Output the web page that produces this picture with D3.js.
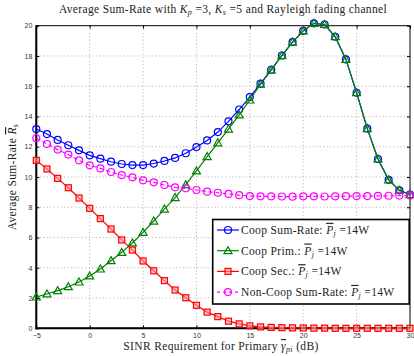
<!DOCTYPE html>
<html>
<head>
<meta charset="utf-8">
<script src="https://cdn.jsdelivr.net/npm/d3@7"></script>
<style>
  body { margin: 0; background: #fff; }
  .tick text { font-family: "Liberation Sans", Arial, sans-serif; font-size: 7px; fill: #333; }
  .ov { text-decoration: overline; }
</style>
</head>
<body>
<script>
// valores
const sinr = d3.range(-5, 31, 1);
const coopSum = [13.17, 12.84, 12.45, 12.1, 11.76, 11.43, 11.21, 11.01, 10.86, 10.79, 10.79, 10.89, 11.06, 11.26, 11.57, 11.98, 12.42, 12.97, 13.68, 14.46, 15.28, 16.17, 17.09, 18.03, 18.92, 19.66, 20.16, 20.08, 19.27, 17.77, 15.57, 13.2, 11.19, 9.81, 9.12, 8.84];
const coopPrim = [2.07, 2.27, 2.49, 2.75, 3.06, 3.46, 3.92, 4.47, 5.02, 5.64, 6.34, 7.09, 7.88, 8.64, 9.49, 10.4, 11.35, 12.26, 13.17, 14.1, 15.09, 16.13, 17.07, 18.02, 18.92, 19.66, 20.16, 20.08, 19.27, 17.77, 15.57, 13.2, 11.19, 9.81, 9.12, 8.84];
const coopSec = [11.1, 10.53, 9.91, 9.29, 8.61, 7.93, 7.25, 6.56, 5.84, 5.17, 4.45, 3.8, 3.15, 2.53, 2.02, 1.52, 1.07, 0.77, 0.47, 0.29, 0.16, 0.09, 0.06, 0.04, 0.03, 0.02, 0.01, 0.01, 0, 0, 0, 0, 0, 0, 0, 0];
const nonCoop = [12.56, 12.18, 11.81, 11.48, 11.1, 10.77, 10.57, 10.33, 10.13, 9.98, 9.78, 9.65, 9.47, 9.32, 9.25, 9.14, 9.03, 8.96, 8.88, 8.8, 8.74, 8.72, 8.72, 8.71, 8.7, 8.72, 8.72, 8.71, 8.72, 8.73, 8.74, 8.74, 8.75, 8.76, 8.77, 8.78];
const xTicks = [-5, 0, 5, 10, 15, 20, 25, 30];
const yTicks = [0, 2, 4, 6, 8, 10, 12, 14, 16, 18, 20];
const legendas = ["Coop Sum-Rate: ", "Coop Prim.: ", "Coop Sec.: ", "Non-Coop Sum-Rate: "];

const largura = 414, altura = 356;
const esq = 36.3, dir = 410, topo = 25.7, base = 328.3;

const svg = d3.select("body").append("svg")
  .attr("width", largura).attr("height", altura);

const x = d3.scaleLinear().domain([-5, 30]).range([esq, dir]);
const y = d3.scaleLinear().domain([0, 20]).range([base, topo]);

// grade pontilhada
svg.append("g").selectAll("line").data(xTicks.slice(1, -1)).join("line")
  .attr("x1", d => x(d)).attr("x2", d => x(d)).attr("y1", topo).attr("y2", base)
  .attr("stroke", "#999").attr("stroke-width", 0.8).attr("stroke-dasharray", "1,2.5");
svg.append("g").selectAll("line").data(yTicks.slice(1, -1)).join("line")
  .attr("y1", d => y(d)).attr("y2", d => y(d)).attr("x1", esq).attr("x2", dir)
  .attr("stroke", "#999").attr("stroke-width", 0.8).attr("stroke-dasharray", "1,2.5");

// eixos
const eixoX = svg.append("g").attr("transform", `translate(0,${base})`)
  .call(d3.axisBottom(x).tickValues(xTicks).tickSize(-3).tickPadding(5).tickFormat(d3.format("d")));
const eixoY = svg.append("g").attr("transform", `translate(${esq},0)`)
  .call(d3.axisLeft(y).tickValues(yTicks).tickSize(-3).tickPadding(4));
// ticks do lado direito e de cima
svg.append("g").attr("transform", `translate(${dir},0)`)
  .call(d3.axisRight(y).tickValues(yTicks).tickSize(-3).tickFormat(""));
svg.append("g").attr("transform", `translate(0,${topo})`)
  .call(d3.axisTop(x).tickValues(xTicks).tickSize(-3).tickFormat(""));
svg.selectAll(".domain").remove();
svg.selectAll(".tick line").attr("stroke", "#000");
eixoX.selectAll("text").text(d => d < 0 ? "\u2212" + (-d) : d);

// moldura
svg.append("rect").attr("x", esq).attr("y", topo).attr("width", dir - esq).attr("height", base - topo)
  .attr("fill", "none").attr("stroke", "#000").attr("stroke-width", 1);
svg.append("line").attr("x1", esq).attr("x2", esq).attr("y1", topo - 0.5).attr("y2", base + 1)
  .attr("stroke", "#000").attr("stroke-width", 2);
svg.append("line").attr("x1", esq - 1).attr("x2", dir).attr("y1", base).attr("y2", base)
  .attr("stroke", "#000").attr("stroke-width", 2);

const series = [
  { dados: coopSum, cor: "#0000ff", marca: "circulo", tracejado: null },
  { dados: coopPrim, cor: "#008000", marca: "triangulo", tracejado: null },
  { dados: coopSec, cor: "#ff0000", marca: "quadrado", tracejado: null },
  { dados: nonCoop, cor: "#ff00ff", marca: "circulo", tracejado: "4,3" }
];

function desenhaMarca(g, tipo, cor, cx, cy) {
  if (tipo == "circulo") {
    g.append("circle").attr("cx", cx).attr("cy", cy).attr("r", 3.5)
      .attr("fill", "none").attr("stroke", cor).attr("stroke-width", 1.2);
  } else if (tipo == "triangulo") {
    const s = 4;
    g.append("path").attr("d", `M${cx},${cy - s} L${cx + s},${cy + s * 0.75} L${cx - s},${cy + s * 0.75} Z`)
      .attr("fill", "none").attr("stroke", cor).attr("stroke-width", 1.2);
  } else {
    g.append("rect").attr("x", cx - 3).attr("y", cy - 3).attr("width", 6).attr("height", 6)
      .attr("fill", "#ff9999").attr("fill-opacity", 0.6).attr("stroke", cor).attr("stroke-width", 1.2);
  }
}

const linha = d3.line().x((d, i) => x(sinr[i])).y(d => y(d));

series.forEach(s => {
  const g = svg.append("g");
  g.append("path").datum(s.dados).attr("d", linha)
    .attr("fill", "none").attr("stroke", s.cor).attr("stroke-width", 1.2)
    .attr("stroke-dasharray", s.tracejado);
  s.dados.forEach((v, i) => desenhaMarca(g, s.marca, s.cor, x(sinr[i]), y(v)));
});

// fonte parecida com a do LaTeX (mais larga que a Times)
const serif = "'Liberation Serif', 'Times New Roman', serif";
const tam = 11.5, tamSub = 8, esp = 0.35;

// titulo
const titulo = svg.append("text").attr("x", 223).attr("y", 13).attr("text-anchor", "middle")
  .attr("font-family", serif).attr("font-size", tam).attr("letter-spacing", esp).attr("fill", "#222");
titulo.append("tspan").text("Average Sum-Rate with ");
titulo.append("tspan").attr("font-style", "italic").text("K");
titulo.append("tspan").attr("font-style", "italic").attr("font-size", tamSub).attr("dy", 2).text("p");
titulo.append("tspan").attr("dy", -2).text(" =3, ");
titulo.append("tspan").attr("font-style", "italic").text("K");
titulo.append("tspan").attr("font-style", "italic").attr("font-size", tamSub).attr("dy", 2).text("s");
titulo.append("tspan").attr("dy", -2).text(" =5 and Rayleigh fading channel");

// rotulo eixo x
const rotX = svg.append("text").attr("x", 221).attr("y", 350).attr("text-anchor", "middle")
  .attr("font-family", serif).attr("font-size", tam).attr("letter-spacing", esp).attr("fill", "#222");
rotX.append("tspan").text("SINR Requirement for Primary ");
rotX.append("tspan").attr("class", "ov").attr("font-style", "italic").text("\u03b3");
rotX.append("tspan").attr("font-style", "italic").attr("font-size", tamSub).attr("dy", 2).text("pi");
rotX.append("tspan").attr("dy", -2).text(" (dB)");

// rotulo eixo y
const rotY = svg.append("text").attr("transform", `translate(16,${(topo + base) / 2}) rotate(-90)`)
  .attr("text-anchor", "middle").attr("font-family", serif).attr("font-size", tam)
  .attr("letter-spacing", esp).attr("fill", "#222");
rotY.append("tspan").text("Average Sum-Rate ");
rotY.append("tspan").attr("class", "ov").attr("font-style", "italic").text("R");
rotY.append("tspan").attr("font-style", "italic").attr("font-size", tamSub).attr("dy", 2).text("s");

// legenda
const leg = svg.append("g");
leg.append("rect").attr("x", 212.7).attr("y", 219.5).attr("width", 196.5).attr("height", 84.5)
  .attr("fill", "#fff").attr("stroke", "#000").attr("stroke-width", 1.6);
series.forEach((s, i) => {
  const ly = 230 + i * 20.7;
  leg.append("line").attr("x1", 217).attr("x2", 239).attr("y1", ly).attr("y2", ly)
    .attr("stroke", s.cor).attr("stroke-width", 1.2).attr("stroke-dasharray", s.tracejado ? "3,3" : null);
  desenhaMarca(leg, s.marca, s.cor, 228, ly);
  const t = leg.append("text").attr("x", 241).attr("y", ly + 3.8)
    .attr("font-family", serif).attr("font-size", tam).attr("letter-spacing", esp).attr("fill", "#222");
  t.append("tspan").text(legendas[i]);
  t.append("tspan").attr("class", "ov").attr("font-style", "italic").text("P");
  t.append("tspan").attr("font-style", "italic").attr("font-size", tamSub).attr("dy", 2).text("j");
  t.append("tspan").attr("dy", -2).text(" =14W");
});
</script>
</body>
</html>
